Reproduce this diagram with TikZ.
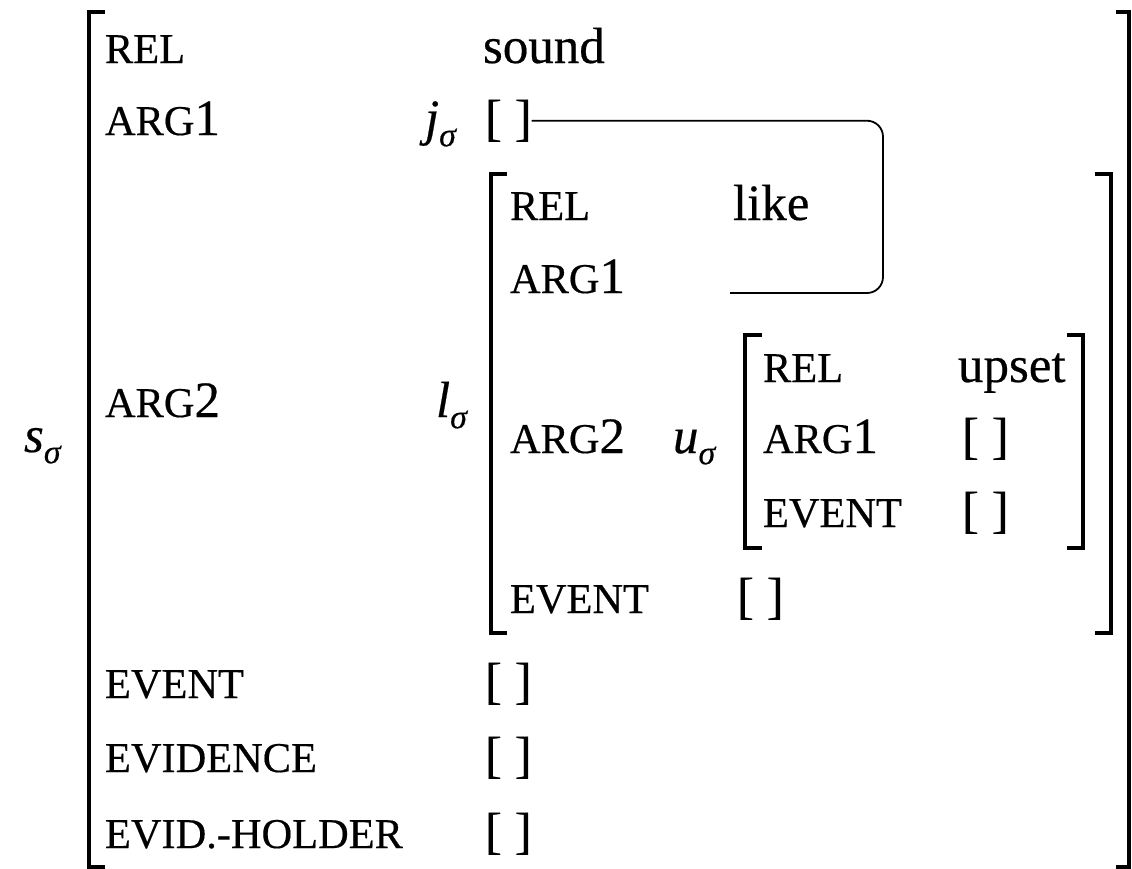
\documentclass[tikz,border=0pt]{standalone}
\usepackage{fontspec}
\setmainfont[FakeBold=0.4]{Liberation Serif}

% feature names: capitals set smaller, digits at full size
\newcommand\fsc[1]{{\fontsize{21.2pt}{21.2pt}\selectfont #1}}
% index letters with a sigma subscript
\newcommand\idx[1]{\textit{#1}\raisebox{-0.22em}{\fontsize{17pt}{17pt}\selectfont\textit{σ}}}

\tikzset{
  lbl/.style={anchor=base west, inner sep=0pt, outer sep=0pt, font=\fontsize{25.5pt}{25.5pt}\selectfont},
  brk/.style={line width=1.6pt, line cap=butt, line join=miter},
  tagline/.style={line width=0.9pt, rounded corners=8pt}
}

\begin{document}
\begin{tikzpicture}[x=0.5pt, y=-0.5pt]
\useasboundingbox (0,0) rectangle (1132,869);

% ---------- outer structure s ----------
\node[lbl] (s) at (24,452) {\idx{s}};
\draw[brk] (105,12) -- (89,12) -- (89,867) -- (105,867);
\draw[brk] (1116,12) -- (1129,12) -- (1129,867) -- (1116,867);

\node[lbl] (sRel)   at (105,63)  {\fsc{REL}};
\node[lbl] (sSound) at (483,63)  {sound};
\node[lbl] (sArg1)  at (105,135) {\fsc{ARG}1};
\node[lbl] (jtag)   at (425,135) {\idx{j}};
\node[lbl] (jbox)   at (485,135) {[ ]};
\node[lbl] (sArg2)  at (105,417) {\fsc{ARG}2};
\node[lbl] (ltag)   at (436,417) {\idx{l}};
\node[lbl] (sEvent) at (105,698) {\fsc{EVENT}};
\node[lbl] (sEvBox) at (485,698) {[ ]};
\node[lbl] (sEvid)  at (105,772) {\fsc{EVIDENCE}};
\node[lbl] (sEdBox) at (485,772) {[ ]};
\node[lbl] (sHold)  at (105,848) {\fsc{EVID.-HOLDER}};
\node[lbl] (sHdBox) at (485,848) {[ ]};

% ---------- embedded structure l ----------
\draw[brk] (507,174) -- (491,174) -- (491,633) -- (507,633);
\draw[brk] (1095,174) -- (1111,174) -- (1111,633) -- (1095,633);

\node[lbl] (lRel)   at (510,220) {\fsc{REL}};
\node[lbl] (lLike)  at (733,220) {like};
\node[lbl] (lArg1)  at (510,293) {\fsc{ARG}1};
\node[lbl] (lArg2)  at (510,453) {\fsc{ARG}2};
\node[lbl] (utag)   at (673,453) {\idx{u}};
\node[lbl] (lEvent) at (510,613) {\fsc{EVENT}};
\node[lbl] (lEvBox) at (737,613) {[ ]};

% ---------- embedded structure u ----------
\draw[brk] (762,335) -- (745,335) -- (745,548) -- (762,548);
\draw[brk] (1067,335) -- (1083,335) -- (1083,548) -- (1067,548);

\node[lbl] (uRel)    at (763,382) {\fsc{REL}};
\node[lbl] (uUpset)  at (958,382) {upset};
\node[lbl] (uArg1)   at (763,453) {\fsc{ARG}1};
\node[lbl] (uA1Box)  at (962,453) {[ ]};
\node[lbl] (uEvent)  at (763,527) {\fsc{EVENT}};
\node[lbl] (uEvBox)  at (962,527) {[ ]};

% ---------- structure sharing: ARG1 of l is j ----------
\coordinate (turn) at (883,200);
\coordinate (lArg1val) at (730,293);
\draw[tagline] (jbox.east) -| (turn) |- (lArg1val);

\end{tikzpicture}
\end{document}
